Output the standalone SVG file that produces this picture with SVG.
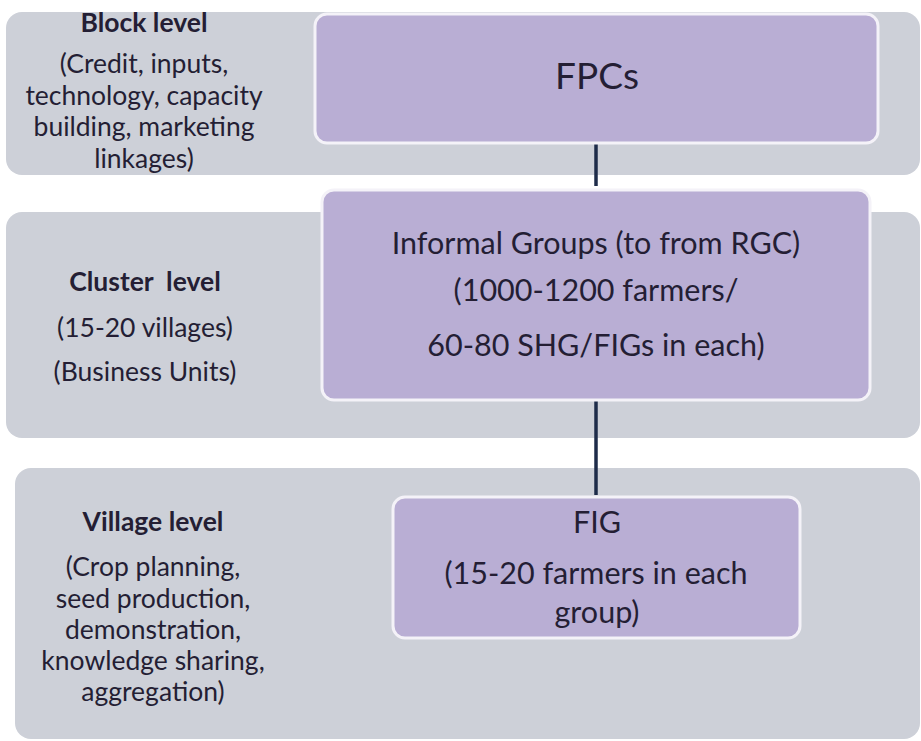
<svg xmlns="http://www.w3.org/2000/svg" width="921" height="741" viewBox="0 0 921 741">
  <style>
    .band { fill: #CDD0D8; }
    .box { fill: #B9AED4; stroke: #F4F2F8; stroke-width: 3; }
    .t { font-family: Lato, "Liberation Sans", sans-serif; fill: #241E34; text-anchor: middle; }
    .side { font-size: 26.5px; }
    .head { font-size: 26.5px; font-weight: bold; }
    .inbox { font-size: 30.5px; }
    .big { font-size: 37px; }
    .conn { stroke: #1E2C4A; stroke-width: 3.5; fill: none; }
  </style>
  <rect width="921" height="741" fill="#FFFFFF"/>

  <!-- level bands -->
  <g id="band-block">
    <rect class="band" x="6" y="12" width="914" height="163" rx="16"/>
    <text class="t head" x="144" y="32">Block level</text>
    <text class="t side" x="144" y="73">(Credit, inputs,</text>
    <text class="t side" x="144" y="105">technology, capacity</text>
    <text class="t side" x="144" y="136">building, marketing</text>
    <text class="t side" x="144" y="168">linkages)</text>
  </g>
  <g id="band-cluster">
    <rect class="band" x="6" y="212" width="914" height="226" rx="16"/>
    <text class="t head" x="145" y="291" xml:space="preserve">Cluster  level</text>
    <text class="t side" x="145" y="337">(15-20 villages)</text>
    <text class="t side" x="145" y="381">(Business Units)</text>
  </g>
  <g id="band-village">
    <rect class="band" x="15" y="468" width="905" height="271" rx="16"/>
    <text class="t head" x="153" y="531">Village level</text>
    <text class="t side" x="153" y="576">(Crop planning,</text>
    <text class="t side" x="153" y="608">seed production,</text>
    <text class="t side" x="153" y="639">demonstration,</text>
    <text class="t side" x="153" y="670">knowledge sharing,</text>
    <text class="t side" x="153" y="701">aggregation)</text>
  </g>

  <!-- connectors -->
  <g id="connectors">
    <line class="conn" x1="596" y1="143" x2="596" y2="186"/>
    <line class="conn" x1="596" y1="400" x2="596" y2="495"/>
  </g>

  <!-- nodes -->
  <g id="node-fpcs">
    <rect class="box" x="315" y="14" width="563" height="129" rx="12"/>
    <text class="t big" x="597" y="89">FPCs</text>
  </g>
  <g id="node-informal">
    <rect class="box" x="322" y="190" width="548" height="210" rx="12"/>
    <text class="t inbox" x="596" y="254">Informal Groups (to from RGC)</text>
    <text class="t inbox" x="596" y="301">(1000-1200 farmers/</text>
    <text class="t inbox" x="596" y="356">60-80 SHG/FIGs in each)</text>
  </g>
  <g id="node-fig">
    <rect class="box" x="393" y="497" width="407" height="141" rx="12"/>
    <text class="t inbox" x="597" y="533">FIG</text>
    <text class="t inbox" x="596" y="584">(15-20 farmers in each</text>
    <text class="t inbox" x="597" y="623">group)</text>
  </g>
</svg>
